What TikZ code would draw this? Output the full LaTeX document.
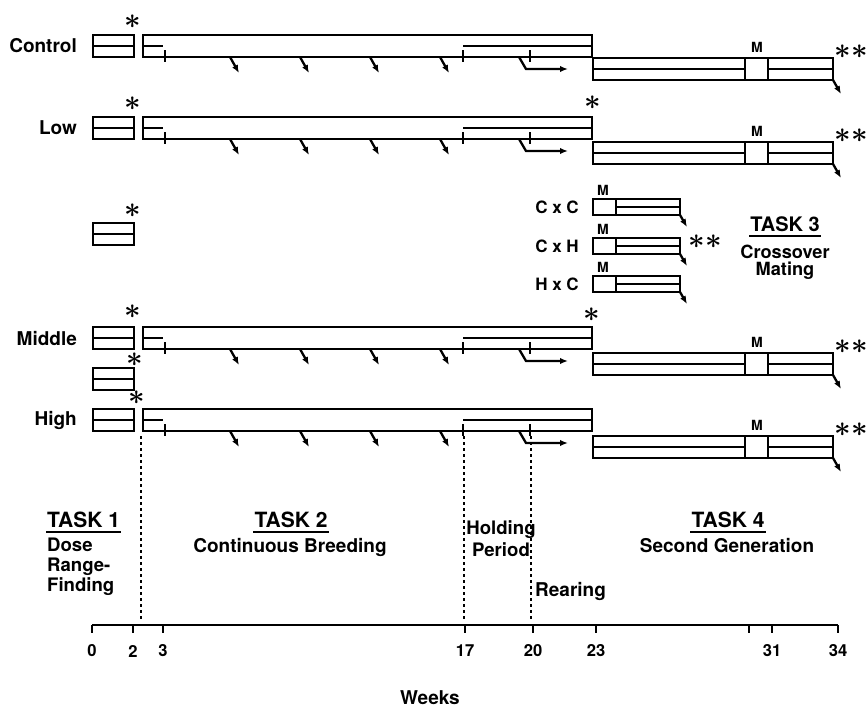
\documentclass[tikz,border=0pt]{standalone}
\usepackage{fontspec}
\setmainfont{TeX Gyre Heros}
\usetikzlibrary{arrows.meta}

\begin{document}
\begin{tikzpicture}[
    x=0.5pt, y=-0.5pt,
    line width=1.15pt,
    every node/.style={font=\bfseries, inner sep=0pt},
    rowlbl/.style={font=\bfseries\fontsize{9.5}{11}\selectfont, anchor=east},
    tasklbl/.style={font=\bfseries\fontsize{10.5}{12}\selectfont, anchor=north},
    bodylbl/.style={font=\bfseries\fontsize{9.5}{11}\selectfont},
    ticklbl/.style={font=\bfseries\fontsize{8.3}{9}\selectfont},
    mlbl/.style={font=\bfseries\fontsize{7}{8}\selectfont},
    crosslbl/.style={font=\bfseries\fontsize{8.5}{10}\selectfont},
    starlbl/.style={font=\Large\boldmath},
    dstarlbl/.style={font=\Large\boldmath},
    darr/.style={-{Latex[length=4pt,width=3.2pt]}},
    dotline/.style={line width=0.8pt, dash pattern=on 1.5pt off 1.5pt},
    uline/.style={line width=1.1pt}
]
\useasboundingbox (0,0) rectangle (866,707);

% Task 1 boxes (dose range-finding)
\foreach \t in {35,117,223,327,368,409} {
    \draw (93,\t) rectangle (134,\t+22);
    \draw (93,\t+11) -- (134,\t+11);
}

% Dose groups: continuous breeding + second generation
\foreach \T/\G/\lbl in {35/58/Control, 117/142/Low, 327/353/Middle, 409/436/High} {
    \node[rowlbl] (lbl-\lbl) at (78,\T+11) {\lbl};
    % task 2 box
    \draw (143,\T) rectangle (592,\T+22);
    \draw (143,\T+11) -- (163,\T+11);
    \draw (463,\T+11) -- (592,\T+11);
    \foreach \x in {165,463,530}
        \draw (\x,\T+15) -- (\x,\T+27);
    \foreach \x in {230,300,370,440}
        \draw[darr] (\x,\T+22) -- ++(9,16);
    \draw[darr] (519,\T+22) -- (526,\T+34) -- (568,\T+34);
    % task 4 box with mating
    \draw (593,\G) rectangle (833,\G+22);
    \draw (593,\G+11) -- (745,\G+11) (768,\G+11) -- (833,\G+11);
    \draw (745,\G) -- (745,\G+22) (768,\G) -- (768,\G+22);
    \node[mlbl] (m-\lbl) at (757,\G-11) {M};
    \node[dstarlbl] (dstar-\lbl) at (851,\G-6) {${\ast}{\ast}$};
    \draw[darr] (833,\G+22) -- ++(8,14);
}

% Single stars
\foreach \x/\y [count=\i] in {133/22, 133/104, 133/211, 133/312, 135/360, 137/398, 593/103, 592/315}
    \node[starlbl] (star\i) at (\x,\y) {$\ast$};

% Task 3: crossover mating
\foreach \t/\lbl [count=\i] in {199/C x C, 238/C x H, 276/H x C} {
    \draw (593,\t) rectangle (680,\t+16);
    \draw (616,\t) -- (616,\t+16);
    \draw (616,\t+8) -- (680,\t+8);
    \node[mlbl] (mx\i) at (603,\t-9) {M};
    \node[crosslbl] (cross\i) at (557,\t+8) {\lbl};
    \draw[darr] (680,\t+16) -- ++(7,12);
}
\node[dstarlbl] (dstar-cross) at (705,242) {${\ast}{\ast}$};
\node[tasklbl, font=\bfseries\fontsize{10}{12}\selectfont] (task3) at (785,216) {TASK 3};
\draw[uline] ([yshift=-2pt]task3.base west) -- ([yshift=-2pt]task3.base east);
\node[bodylbl, anchor=north, align=center, font=\bfseries\fontsize{9.1}{8.6}\selectfont] (cross) at (785,244) {Crossover\\Mating};

% Phase boundaries
\foreach \x in {141,464,531}
    \draw[dotline] (\x,436) -- (\x,620);

% Time axis
\draw (92,625) -- (838,625);
\draw (749,625) -- (749,633);
\foreach \x/\w in {92/0, 133/2, 163/3, 465/17, 533/20, 596/23, 772/31, 838/34} {
    \draw (\x,625) -- (\x,633);
    \node[ticklbl] (wk\w) at (\x,651) {\w};
}
\node[bodylbl, anchor=base] (weeks) at (430,704) {Weeks};

% Task labels
\node[tasklbl, anchor=north west] (task1) at (46,511) {TASK 1};
\draw[uline] ([yshift=-2pt]task1.base west) -- ([yshift=-2pt]task1.base east);
\node[bodylbl, anchor=north west, align=left, font=\bfseries\fontsize{9.3}{10}\selectfont] (dose) at (46,537) {Dose\\Range-\\Finding};

\node[tasklbl] (task2) at (291,511) {TASK 2};
\draw[uline] ([yshift=-2pt]task2.base west) -- ([yshift=-2pt]task2.base east);
\node[bodylbl, anchor=north] (breed) at (290,537) {Continuous Breeding};

\node[bodylbl, anchor=north, align=center, font=\bfseries\fontsize{9.3}{11}\selectfont] (hold) at (501,519) {Holding\\Period};
\node[bodylbl, anchor=north west] (rear) at (534,581) {Rearing};

\node[tasklbl] (task4) at (728,511) {TASK 4};
\draw[uline] ([yshift=-2pt]task4.base west) -- ([yshift=-2pt]task4.base east);
\node[bodylbl, anchor=north] (secgen) at (727,537) {Second Generation};

\end{tikzpicture}
\end{document}
